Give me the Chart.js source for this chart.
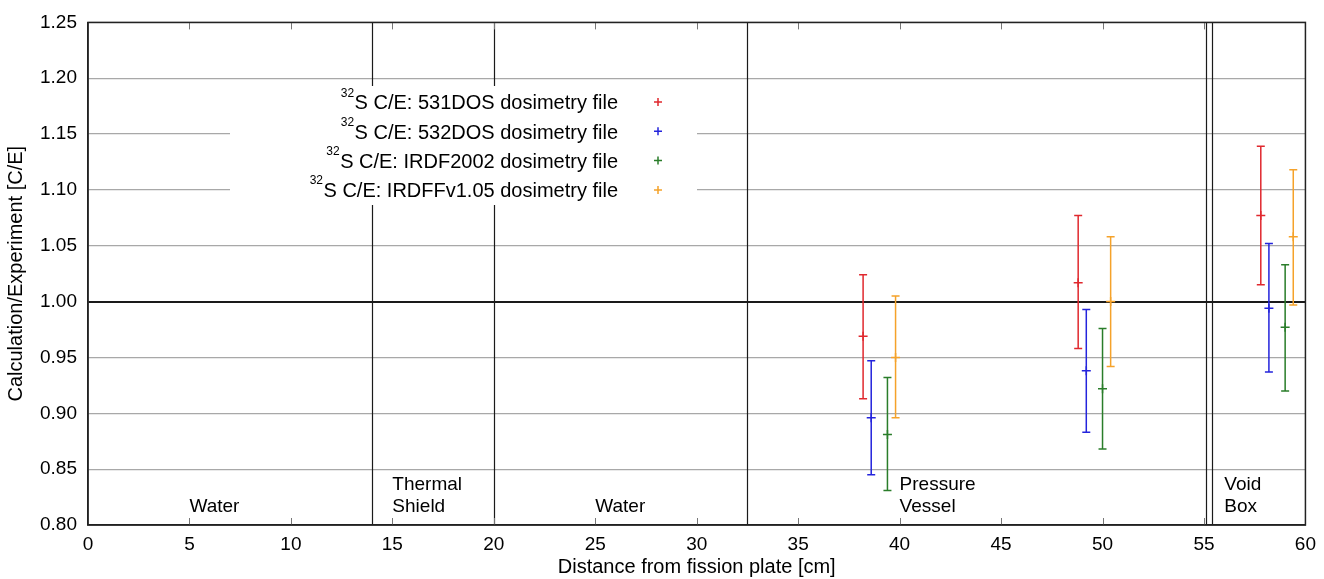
<!DOCTYPE html>
<html>
<head>
<meta charset="utf-8">
<script src="https://cdn.jsdelivr.net/npm/chart.js@4.4.1/dist/chart.umd.min.js"></script>
<style>
  html, body { margin: 0; padding: 0; background: #fff; }
  #wrap { width: 1324px; height: 579px; }
</style>
</head>
<body>
<div id="wrap"><canvas id="ceChart"></canvas></div>
<script>
// axis ranges
const xRange = [0, 60];
const yRange = [0.80, 1.25];

// series : C/E values with error bar limits
const seriesLabels = ['531DOS', '532DOS', 'IRDF2002', 'IRDFFv1.05'];
const seriesColors = ['#e0282e', '#2424dc', '#2a7d2a', '#f5a22a'];

const x531 = [38.2, 48.8, 57.8];
const ce531 = [0.969, 1.017, 1.077];
const lo531 = [0.913, 0.958, 1.015];
const hi531 = [1.024, 1.077, 1.139];

const x532 = [38.6, 49.2, 58.2];
const ce532 = [0.896, 0.938, 0.994];
const lo532 = [0.845, 0.883, 0.937];
const hi532 = [0.947, 0.993, 1.052];

const x2002 = [39.4, 50.0, 59.0];
const ce2002 = [0.881, 0.922, 0.977];
const lo2002 = [0.831, 0.868, 0.920];
const hi2002 = [0.932, 0.976, 1.033];

const x105 = [39.8, 50.4, 59.4];
const ce105 = [0.950, 1.000, 1.058];
const lo105 = [0.896, 0.942, 0.997];
const hi105 = [1.005, 1.058, 1.118];

// material regions along the distance axis
const regionBounds = [14, 20, 32.5, 55.1, 55.4];
const regionNames = [['Water'], ['Thermal', 'Shield'], ['Water'], ['Pressure', 'Vessel'], ['Void', 'Box']];
const regionLabelX = [5, 15, 25, 40, 56];

const FONT = "'Liberation Sans', Arial, Helvetica, sans-serif";
Chart.defaults.font.family = FONT;
Chart.defaults.font.size = 19;
Chart.defaults.color = '#000';

function makeSet(i, xs, ys, lo, hi) {
  return {
    label: seriesLabels[i],
    data: xs.map((x, k) => ({ x: x, y: ys[k], lo: lo[k], hi: hi[k] })),
    borderColor: seriesColors[i],
    backgroundColor: seriesColors[i],
    pointStyle: 'cross',
    pointRadius: 4.5,
    pointHoverRadius: 4.5,
    pointBorderWidth: 1.5,
    showLine: false
  };
}

// error bars, drawn from the scales
const errorBars = {
  id: 'errorBars',
  beforeDatasetsDraw(chart) {
    const ctx = chart.ctx;
    const ys = chart.scales.y;
    ctx.save();
    chart.data.datasets.forEach((ds, di) => {
      const meta = chart.getDatasetMeta(di);
      ctx.strokeStyle = ds.borderColor;
      ctx.lineWidth = 1.5;
      meta.data.forEach((pt, k) => {
        const top = ys.getPixelForValue(ds.data[k].hi);
        const bot = ys.getPixelForValue(ds.data[k].lo);
        ctx.beginPath();
        ctx.moveTo(pt.x, top); ctx.lineTo(pt.x, bot);
        ctx.moveTo(pt.x - 4, top); ctx.lineTo(pt.x + 4, top);
        ctx.moveTo(pt.x - 4, bot); ctx.lineTo(pt.x + 4, bot);
        ctx.stroke();
      });
    });
    ctx.restore();
  }
};

// region separators, labels, key box, frame
const decorations = {
  id: 'decorations',
  beforeDatasetsDraw(chart) {
    const ctx = chart.ctx;
    const a = chart.chartArea;
    const xs = chart.scales.x;
    const ys = chart.scales.y;
    ctx.save();

    // region separators
    ctx.strokeStyle = '#1a1a1a';
    ctx.lineWidth = 1.2;
    regionBounds.forEach(v => {
      const px = Math.round(xs.getPixelForValue(v)) + 0.5;
      ctx.beginPath(); ctx.moveTo(px, a.top); ctx.lineTo(px, a.bottom); ctx.stroke();
    });

    // tick marks, bottom and top, pointing inward
    ctx.strokeStyle = '#777';
    ctx.lineWidth = 1;
    for (let v = xRange[0] + 5; v < xRange[1]; v += 5) {
      const px = Math.round(xs.getPixelForValue(v)) + 0.5;
      ctx.beginPath();
      ctx.moveTo(px, a.bottom); ctx.lineTo(px, a.bottom - 7);
      ctx.moveTo(px, a.top); ctx.lineTo(px, a.top + 7);
      ctx.stroke();
    }

    // region names
    ctx.fillStyle = '#000';
    ctx.font = '19px ' + FONT;
    ctx.textAlign = 'left';
    ctx.textBaseline = 'alphabetic';
    const baseY = ys.getPixelForValue(yRange[0]) - 13;
    regionNames.forEach((lines, i) => {
      const px = xs.getPixelForValue(regionLabelX[i]);
      lines.forEach((t, j) => {
        ctx.fillText(t, px, baseY - (lines.length - 1 - j) * 22.3);
      });
    });

    // key (opaque box hiding grid lines)
    ctx.fillStyle = '#fff';
    ctx.fillRect(230, 86, 467, 119);
    seriesLabels.forEach((name, i) => {
      const cy = 102 + i * 29.3;
      const main = 'S C/E: ' + name + ' dosimetry file';
      ctx.font = '20px ' + FONT;
      ctx.textAlign = 'right';
      ctx.fillStyle = '#000';
      ctx.fillText(main, 618, cy + 7.3);
      const w = ctx.measureText(main).width;
      ctx.font = '12px ' + FONT;
      ctx.fillText('32', 618 - w - 0.5, cy - 5.5);
      ctx.strokeStyle = seriesColors[i];
      ctx.lineWidth = 1.5;
      ctx.beginPath();
      ctx.moveTo(658 - 4, cy); ctx.lineTo(658 + 4, cy);
      ctx.moveTo(658, cy - 4); ctx.lineTo(658, cy + 4);
      ctx.stroke();
    });
    ctx.restore();
  },
  afterDraw(chart) {
    const ctx = chart.ctx;
    const a = chart.chartArea;
    ctx.save();
    ctx.strokeStyle = '#222';
    ctx.lineWidth = 1.5;
    ctx.strokeRect(a.left, a.top, a.right - a.left, a.bottom - a.top);
    ctx.restore();
  }
};

const ctx = document.getElementById('ceChart').getContext('2d');
const ceChart = new Chart(ctx, {
  type: 'scatter',
  data: {
    datasets: [
      makeSet(0, x531, ce531, lo531, hi531),
      makeSet(1, x532, ce532, lo532, hi532),
      makeSet(2, x2002, ce2002, lo2002, hi2002),
      makeSet(3, x105, ce105, lo105, hi105)
    ]
  },
  options: {
    responsive: true,
    maintainAspectRatio: false,
    animation: false,
    layout: { padding: { top: 19, right: 16, left: 0, bottom: 0 } },
    plugins: {
      legend: { display: false },
      tooltip: { enabled: false }
    },
    scales: {
      x: {
        type: 'linear',
        min: xRange[0],
        max: xRange[1],
        afterFit(s) { s.height = 54; },
        ticks: { stepSize: 5, padding: 8, font: { size: 19 }, maxRotation: 0 },
        grid: { display: false, drawTicks: false },
        border: { display: true, color: '#222', width: 1.5 },
        title: { display: true, text: 'Distance from fission plate [cm]', font: { size: 20 }, padding: { top: 0, bottom: 0 } }
      },
      y: {
        type: 'linear',
        min: yRange[0],
        max: yRange[1],
        afterFit(s) { s.width = 88; },
        ticks: { stepSize: 0.05, padding: 11, font: { size: 19 }, callback: v => v.toFixed(2) },
        grid: {
          drawTicks: false,
          color: c => Math.abs(c.tick.value - 1) < 1e-6 ? '#1a1a1a' : '#a8a8a8',
          lineWidth: c => Math.abs(c.tick.value - 1) < 1e-6 ? 2 : 1.2
        },
        border: { display: true, color: '#222', width: 1.5 },
        title: { display: true, text: 'Calculation/Experiment [C/E]', font: { size: 20 }, padding: { top: 4, bottom: 0 } }
      }
    }
  },
  plugins: [decorations, errorBars]
});
</script>
</body>
</html>
